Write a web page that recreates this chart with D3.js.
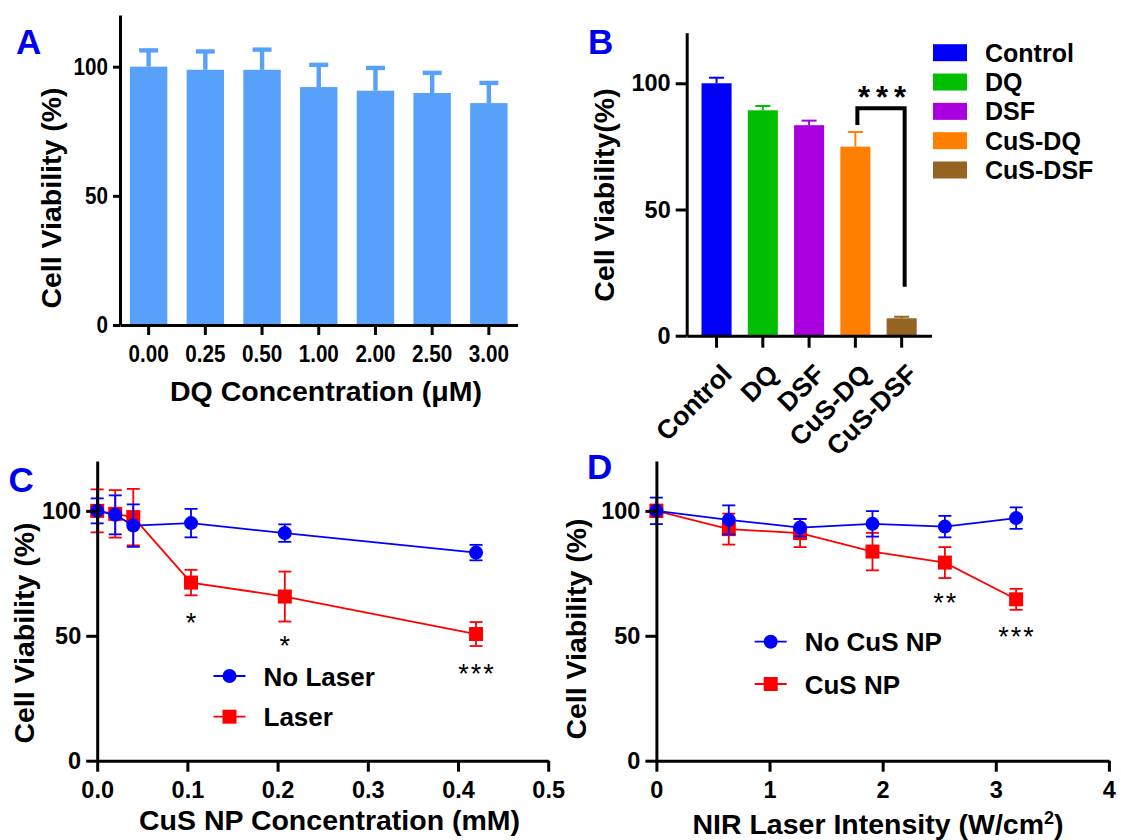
<!DOCTYPE html>
<html>
<head>
<meta charset="utf-8">
<script src="https://cdn.jsdelivr.net/npm/d3@7"></script>
<style>
	body { margin: 0; background: #fff; }
	text { font-family: Arial, 'Liberation Sans', sans-serif; }
	.axis path, .axis line { stroke: #000; stroke-width: 3px; }
	.axis text { font-weight: bold; fill: #000; }
</style>
</head>
<body>
<div id="d3-wrapper"></div>
<script>
// panel A
const aConc = ['0.00', '0.25', '0.50', '1.00', '2.00', '2.50', '3.00'];
const aMean = [100, 98.8, 98.8, 92.1, 90.7, 89.8, 85.9];
const aErr = [6.3, 7.1, 7.8, 8.6, 8.8, 7.8, 7.8];

// panel B
const bGroups = ['Control', 'DQ', 'DSF', 'CuS-DQ', 'CuS-DSF'];
const bMean = [100, 89.3, 83.4, 74.9, 6.9];
const bErr = [2.2, 1.7, 1.8, 5.8, 0.6];
const bColors = ['#0000fa', '#00bf00', '#aa00df', '#ff8000', '#956322'];

// panel C
const cConc = [0, 0.02, 0.04, 0.104, 0.208, 0.42];
const cNoLaser = [100, 98.4, 94.1, 95.1, 91.1, 83.3];
const cNoLaserErr = [5, 7.8, 8.5, 5.7, 3.5, 3.1];
const cLaser = [100, 98.8, 97.5, 71.3, 65.7, 50.7];
const cLaserErr = [8.6, 9.5, 11.3, 5.1, 10, 4.8];
const cStars = [{x: 0.104, y: 57.7, t: '*'}, {x: 0.208, y: 48.5, t: '*'}, {x: 0.42, y: 37.2, t: '***'}];

// panel D
const dIntensity = [0, 0.64, 1.27, 1.91, 2.55, 3.18];
const dNoCuS = [100, 96.4, 93.3, 94.8, 93.7, 97.1];
const dNoCuSErr = [5.3, 5.8, 3.5, 5.1, 4.3, 4.3];
const dCuS = [100, 92.7, 91.1, 83.7, 79.3, 64.6];
const dCuSErr = [2.5, 6.2, 5.6, 7.5, 6.2, 4.2];
const dStars = [{x: 2.55, y: 65.7, t: '**'}, {x: 3.18, y: 52.3, t: '***'}];

const yTicks = [0, 50, 100];

const svg = d3.select('#d3-wrapper')
	.append('svg')
	.attr('width', 1121)
	.attr('height', 840);

function panelLetter(txt, x, y) {
	svg.append('text')
		.attr('x', x)
		.attr('y', y)
		.style('font-size', '35px')
		.style('font-weight', 'bold')
		.style('fill', '#0000f0')
		.text(txt);
}

function yTitle(txt, x, y) {
	svg.append('text')
		.attr('transform', `translate(${x}, ${y}) rotate(-90)`)
		.attr('text-anchor', 'middle')
		.style('font-size', '28.5px')
		.style('font-weight', 'bold')
		.text(txt);
}

function xTitle(x, y) {
	return svg.append('text')
		.attr('x', x)
		.attr('y', y)
		.attr('text-anchor', 'middle')
		.style('font-size', '28.5px')
		.style('font-weight', 'bold');
}

// ---------- A ----------
const aX = d3.scaleBand()
	.domain(aConc)
	.range([120, 517.5])
	.paddingInner(0.34)
	.paddingOuter(0.175);
const aY = d3.scaleLinear().domain([0, 120]).range([325, 15]);

svg.selectAll('.bar-a')
	.data(aConc)
	.enter()
	.append('rect')
	.attr('x', d => aX(d))
	.attr('y', (d, i) => aY(aMean[i]))
	.attr('width', aX.bandwidth())
	.attr('height', (d, i) => aY(0) - aY(aMean[i]))
	.style('fill', '#57a1fa');

aConc.forEach((d, i) => {
	const cx = aX(d) + aX.bandwidth() / 2;
	svg.append('line')
		.attr('x1', cx).attr('x2', cx)
		.attr('y1', aY(aMean[i])).attr('y2', aY(aMean[i] + aErr[i]))
		.style('stroke', '#57a1fa').style('stroke-width', 4.4);
	svg.append('line')
		.attr('x1', cx - 9.5).attr('x2', cx + 9.5)
		.attr('y1', aY(aMean[i] + aErr[i])).attr('y2', aY(aMean[i] + aErr[i]))
		.style('stroke', '#57a1fa').style('stroke-width', 4.4);
});

const aYAxis = svg.append('g')
	.attr('class', 'axis')
	.attr('transform', 'translate(120, 0)')
	.call(d3.axisLeft(aY).tickValues(yTicks).tickSize(7).tickSizeOuter(0).tickPadding(5));
const aXAxis = svg.append('g')
	.attr('class', 'axis')
	.attr('transform', 'translate(0, 325)')
	.call(d3.axisBottom(aX).tickSize(10).tickSizeOuter(0).tickPadding(10));
// the tick labels of A are set in a narrow face
[aYAxis, aXAxis].forEach(g => g.selectAll('text')
	.style('font-size', '24px')
	.each(function () {
		const w = this.getComputedTextLength();
		d3.select(this).attr('textLength', w * 0.86).attr('lengthAdjust', 'spacingAndGlyphs');
	}));

yTitle('Cell Viability (%)', 61, 198);
xTitle(326, 401).text('DQ Concentration (μM)');
panelLetter('A', 16, 54);

// ---------- B ----------
const bX = d3.scaleBand()
	.domain(bGroups)
	.range([686.7, 931.5])
	.paddingInner(0.35)
	.paddingOuter(0.32);
const bY = d3.scaleLinear().domain([0, 120]).range([335.7, 32.8]);

svg.selectAll('.bar-b')
	.data(bGroups)
	.enter()
	.append('rect')
	.attr('x', d => bX(d))
	.attr('y', (d, i) => bY(bMean[i]))
	.attr('width', bX.bandwidth())
	.attr('height', (d, i) => bY(0) - bY(bMean[i]))
	.style('fill', (d, i) => bColors[i]);

bGroups.forEach((d, i) => {
	const cx = bX(d) + bX.bandwidth() / 2;
	svg.append('line')
		.attr('x1', cx).attr('x2', cx)
		.attr('y1', bY(bMean[i])).attr('y2', bY(bMean[i] + bErr[i]))
		.style('stroke', bColors[i]).style('stroke-width', 2);
	svg.append('line')
		.attr('x1', cx - 7.5).attr('x2', cx + 7.5)
		.attr('y1', bY(bMean[i] + bErr[i])).attr('y2', bY(bMean[i] + bErr[i]))
		.style('stroke', bColors[i]).style('stroke-width', 2);
});

svg.append('g')
	.attr('class', 'axis')
	.attr('transform', 'translate(686.7, 0)')
	.call(d3.axisLeft(bY).tickValues(yTicks).tickSize(11).tickSizeOuter(0).tickPadding(5))
	.selectAll('text')
	.style('font-size', '23.5px');

const bXAxis = svg.append('g')
	.attr('class', 'axis')
	.attr('transform', 'translate(0, 335.7)')
	.call(d3.axisBottom(bX).tickSize(12).tickSizeOuter(0));
bXAxis.selectAll('text')
	.attr('text-anchor', 'end')
	.attr('x', 0)
	.attr('y', 0)
	.attr('dy', 0)
	.attr('transform', 'translate(17, 40) rotate(-45)')
	.style('font-size', '26.5px');

// significance bracket
const b4 = bX('CuS-DQ') + bX.bandwidth() / 2 + 2;
const b5 = bX('CuS-DSF') + bX.bandwidth() / 2 + 3;
svg.append('path')
	.attr('d', d3.line()([[b4, bY(83.5)], [b4, bY(90.1)], [b5, bY(90.1)], [b5, bY(19.4)]]))
	.style('fill', 'none')
	.style('stroke', '#000')
	.style('stroke-width', 4);
svg.append('text')
	.attr('x', (b4 + b5) / 2 + 4)
	.attr('y', 108)
	.attr('text-anchor', 'middle')
	.style('font-size', '31px')
	.style('font-weight', 'bold')
	.style('letter-spacing', '6px')
	.text('***');

const bLegend = svg.append('g').attr('transform', 'translate(933, 0)');
const bLegendY = d3.scalePoint().domain(bGroups).range([52.7, 170]);
bGroups.forEach((d, i) => {
	bLegend.append('rect')
		.attr('x', 0)
		.attr('y', bLegendY(d) - 8.5)
		.attr('width', 34)
		.attr('height', 17)
		.style('fill', bColors[i]);
	bLegend.append('text')
		.attr('x', 52)
		.attr('y', bLegendY(d) + 9)
		.style('font-size', '25px')
		.style('font-weight', 'bold')
		.text(d);
});

yTitle('Cell Viability(%)', 613.6, 195);
panelLetter('B', 588, 54);

// ---------- line panels ----------
function linePanel(cfg) {
	const x = d3.scaleLinear().domain(cfg.xDomain).range(cfg.xRange);
	const y = d3.scaleLinear().domain([0, 120]).range([760.7, 460.9]);
	const line = d3.line().x(d => x(d[0])).y(d => y(d[1]));

	cfg.series.forEach(s => {
		const pts = cfg.xs.map((v, i) => [v, s.mean[i], s.err[i]]);
		svg.append('path')
			.attr('d', line(pts))
			.style('fill', 'none')
			.style('stroke', s.color)
			.style('stroke-width', 1.8);
		pts.forEach(p => {
			const cx = x(p[0]);
			svg.append('line')
				.attr('x1', cx).attr('x2', cx)
				.attr('y1', y(p[1] - p[2])).attr('y2', y(p[1] + p[2]))
				.style('stroke', s.color).style('stroke-width', 1.8);
			[p[1] - p[2], p[1] + p[2]].forEach(v => {
				svg.append('line')
					.attr('x1', cx - 6.5).attr('x2', cx + 6.5)
					.attr('y1', y(v)).attr('y2', y(v))
					.style('stroke', s.color).style('stroke-width', 1.8);
			});
			drawMarker(s.shape, cx, y(p[1]), s.color);
		});
	});

	svg.append('g')
		.attr('class', 'axis')
		.attr('transform', `translate(${cfg.xRange[0]}, 0)`)
		.call(d3.axisLeft(y).tickValues(yTicks).tickSize(11).tickSizeOuter(0).tickPadding(5))
		.selectAll('text')
		.style('font-size', '23.5px');
	svg.append('g')
		.attr('class', 'axis')
		.attr('transform', 'translate(0, 760.7)')
		.call(d3.axisBottom(x).tickValues(cfg.xTicks).tickFormat(cfg.xFormat).tickSize(11).tickSizeOuter(0).tickPadding(cfg.xPad))
		.selectAll('text')
		.style('font-size', '23.5px');

	cfg.stars.forEach(s => {
		svg.append('text')
			.attr('x', x(s.x) + 1)
			.attr('y', y(s.y))
			.attr('dy', '0.58em')
			.attr('text-anchor', 'middle')
			.style('font-size', '27px')
			.style('letter-spacing', '2px')
			.text(s.t);
	});

	cfg.series.forEach((s, i) => {
		const ly = cfg.legend.y[i];
		svg.append('line')
			.attr('x1', cfg.legend.x).attr('x2', cfg.legend.x + 32)
			.attr('y1', ly).attr('y2', ly)
			.style('stroke', s.color).style('stroke-width', 1.8);
		drawMarker(s.shape, cfg.legend.x + 16, ly, s.color);
		svg.append('text')
			.attr('x', cfg.legend.x + 50)
			.attr('y', ly + 9.5)
			.style('font-size', '26px')
			.style('font-weight', 'bold')
			.text(s.name);
	});
}

function drawMarker(shape, cx, cy, color) {
	if (shape === 'circle') {
		svg.append('circle')
			.attr('cx', cx).attr('cy', cy).attr('r', 7)
			.style('fill', color);
	} else {
		svg.append('rect')
			.attr('x', cx - 7).attr('y', cy - 7)
			.attr('width', 14).attr('height', 14)
			.style('fill', color);
	}
}

linePanel({
	xs: cConc,
	xDomain: [0, 0.5],
	xRange: [97.2, 548.2],
	xTicks: [0, 0.1, 0.2, 0.3, 0.4, 0.5],
	xFormat: d3.format('.1f'),
	xPad: 10,
	series: [
		{name: 'Laser', mean: cLaser, err: cLaserErr, color: '#ff0000', shape: 'square'},
		{name: 'No Laser', mean: cNoLaser, err: cNoLaserErr, color: '#0000ff', shape: 'circle'}
	],
	stars: cStars,
	legend: {x: 213.5, y: [716.7, 676]}
});
yTitle('Cell Viability (%)', 34, 633);
xTitle(329.5, 830).text('CuS NP Concentration (mM)');
panelLetter('C', 8.5, 492);

linePanel({
	xs: dIntensity,
	xDomain: [0, 4],
	xRange: [656.4, 1108.9],
	xTicks: [0, 1, 2, 3, 4],
	xFormat: d3.format('d'),
	xPad: 10,
	series: [
		{name: 'CuS NP', mean: dCuS, err: dCuSErr, color: '#ff0000', shape: 'square'},
		{name: 'No CuS NP', mean: dNoCuS, err: dNoCuSErr, color: '#0000ff', shape: 'circle'}
	],
	stars: dStars,
	legend: {x: 754.7, y: [684, 641.7]}
});
yTitle('Cell Viability (%)', 585.7, 629);
const dTitle = xTitle(878, 834);
dTitle.append('tspan').text('NIR Laser Intensity (W/cm');
dTitle.append('tspan').attr('baseline-shift', 'super').style('font-size', '18px').text('2');
dTitle.append('tspan').text(')');
panelLetter('D', 587, 479);
</script>
</body>
</html>
